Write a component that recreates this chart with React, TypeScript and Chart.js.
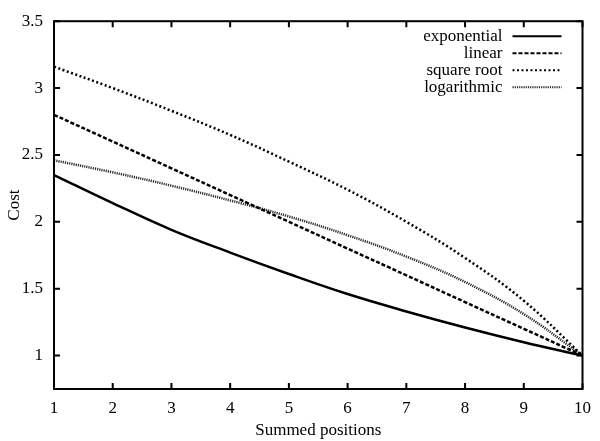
import React, { useEffect, useRef } from 'react';
import { Chart, registerables } from 'chart.js';

Chart.register(...registerables);

const xValues = [1, 2, 3, 4, 5, 6, 7, 8, 9, 10];
const exponential = [2.35, 2.14, 1.94, 1.77, 1.61, 1.46, 1.33, 1.21, 1.1, 1.0];
const linear = [2.8, 2.6, 2.4, 2.2, 2.0, 1.8, 1.6, 1.4, 1.2, 1.0];
const squareRoot = [3.16, 3.0, 2.83, 2.65, 2.45, 2.24, 2.0, 1.73, 1.41, 1.0];
const logarithmic = [2.46, 2.37, 2.27, 2.16, 2.04, 1.9, 1.74, 1.55, 1.31, 1.0];
const seriesNames = ['exponential', 'linear', 'square root', 'logarithmic'];
const xTicks = [1, 2, 3, 4, 5, 6, 7, 8, 9, 10];
const yTicks = [1, 1.5, 2, 2.5, 3, 3.5];

const FONT = '"Liberation Serif", "Times New Roman", serif';

const framePlugin = {
  id: 'gnuFrame',
  afterDatasetsDraw(chart: any) {
    const { ctx, chartArea, scales } = chart;
    const { left, right, top, bottom } = chartArea;
    const x = scales.x;
    const y = scales.y;
    ctx.save();
    ctx.strokeStyle = '#000';
    ctx.lineWidth = 2;
    ctx.setLineDash([]);
    ctx.strokeRect(left, top, right - left, bottom - top);
    const len = 6;
    ctx.beginPath();
    for (const t of xTicks) {
      const px = x.getPixelForValue(t);
      ctx.moveTo(px, bottom);
      ctx.lineTo(px, bottom - len);
      ctx.moveTo(px, top);
      ctx.lineTo(px, top + len);
    }
    for (const t of yTicks) {
      const py = y.getPixelForValue(t);
      ctx.moveTo(left, py);
      ctx.lineTo(left + len, py);
      ctx.moveTo(right, py);
      ctx.lineTo(right - len, py);
    }
    ctx.stroke();

    // legend
    ctx.font = `17px ${FONT}`;
    ctx.fillStyle = '#000';
    ctx.textAlign = 'right';
    ctx.textBaseline = 'middle';
    chart.data.datasets.forEach((ds: any, i: number) => {
      const rowY = top + 15 + i * 17;
      ctx.fillText(ds.label, right - 80, rowY);
      ctx.beginPath();
      ctx.strokeStyle = ds.borderColor;
      ctx.lineWidth = 2;
      ctx.setLineDash(ds.borderDash || []);
      ctx.moveTo(right - 70, rowY);
      ctx.lineTo(right - 21, rowY);
      ctx.stroke();
    });
    ctx.restore();
  },
};

export default function App() {
  const canvasRef = useRef<HTMLCanvasElement | null>(null);

  useEffect(() => {
    document.body.style.margin = '0';
    const canvas = canvasRef.current;
    if (!canvas) return;
    const mk = (arr: number[]) => xValues.map((x, i) => ({ x, y: arr[i] }));
    const chart = new Chart(canvas, {
      type: 'line',
      data: {
        datasets: [
          { label: seriesNames[0], data: mk(exponential), borderColor: '#000', borderWidth: 2.5, borderDash: [] },
          { label: seriesNames[1], data: mk(linear), borderColor: '#000', borderWidth: 2.5, borderDash: [4, 2] },
          { label: seriesNames[2], data: mk(squareRoot), borderColor: '#000', borderWidth: 2.5, borderDash: [2, 2.5] },
          { label: seriesNames[3], data: mk(logarithmic), borderColor: '#2a2a2a', borderWidth: 2.5, borderDash: [1.2, 1] },
        ] as any,
      },
      options: {
        animation: false,
        responsive: false,
        maintainAspectRatio: false,
        elements: { point: { radius: 0 }, line: { tension: 0.4, fill: false } },
        layout: { padding: { top: 17, right: 12, left: 0, bottom: 0 } },
        plugins: { legend: { display: false }, tooltip: { enabled: false } },
        scales: {
          x: {
            type: 'linear',
            min: 1,
            max: 10,
            grid: { display: false, drawTicks: false },
            border: { display: false },
            afterBuildTicks: (s: any) => { s.ticks = xTicks.map((v) => ({ value: v })); },
            afterFit: (s: any) => { s.height = 52; },
            ticks: { color: '#000', font: { family: FONT, size: 17 }, padding: 9, maxRotation: 0, autoSkip: false, callback: (v: any) => String(v) },
            title: { display: true, text: 'Summed positions', color: '#000', font: { family: FONT, size: 17 }, padding: { top: 4, bottom: 0 } },
          },
          y: {
            type: 'linear',
            min: 0.75,
            max: 3.5,
            grid: { display: false, drawTicks: false },
            border: { display: false },
            afterBuildTicks: (s: any) => { s.ticks = yTicks.map((v) => ({ value: v })); },
            afterFit: (s: any) => { s.width = 54; },
            ticks: { color: '#000', font: { family: FONT, size: 17 }, padding: 11, autoSkip: false, callback: (v: any) => String(v) },
            title: { display: true, text: 'Cost', color: '#000', font: { family: FONT, size: 17 }, padding: { top: 4, bottom: 0 } },
          },
        },
      } as any,
      plugins: [framePlugin],
    });
    return () => chart.destroy();
  }, []);

  return (
    <div style={{ width: 600, height: 441 }}>
      <canvas ref={canvasRef} width={600} height={441} />
    </div>
  );
}
